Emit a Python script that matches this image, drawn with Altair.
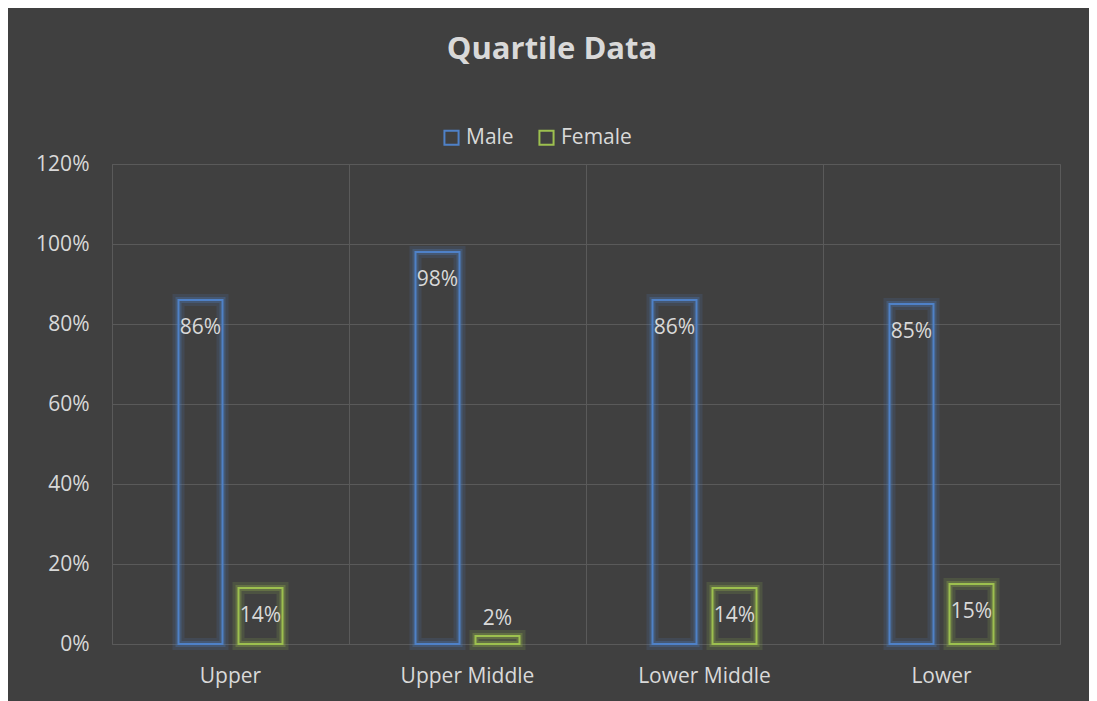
import altair as alt
import pandas as pd

categories = ["Upper", "Upper Middle", "Lower Middle", "Lower"]
male = [0.86, 0.98, 0.86, 0.85]
female = [0.14, 0.02, 0.14, 0.15]
series = ["Male", "Female"]
y_ticks = [0, 0.2, 0.4, 0.6, 0.8, 1.0, 1.2]

rows = []
for i, c in enumerate(categories):
    rows.append({"quartile": c, "gender": "Male", "value": male[i]})
    rows.append({"quartile": c, "gender": "Female", "value": female[i]})
df = pd.DataFrame(rows)

BG = "#404040"
TXT = "#d9d9d9"
GRID = "#5a5a5a"
FONT = "Open Sans"
FS = 21
colors = ["#4f81c7", "#9dc04f"]

x = alt.X("quartile:N", sort=categories, title=None,
          scale=alt.Scale(paddingInner=0, paddingOuter=0),
          axis=alt.Axis(grid=True, bandPosition=0, gridColor=GRID, gridWidth=1,
                        ticks=False, domain=False, labelAngle=0,
                        labelFontSize=FS, labelColor=TXT, labelFont=FONT,
                        labelPadding=21))
xo = alt.XOffset("gender:N", sort=series,
                 scale=alt.Scale(paddingInner=0, paddingOuter=0.975))
y = alt.Y("value:Q", title=None,
          scale=alt.Scale(domain=[0, 1.2]),
          axis=alt.Axis(values=y_ticks, format=".0%", grid=True, gridColor=GRID,
                        gridWidth=1, ticks=False, domain=False,
                        labelFontSize=FS, labelColor=TXT, labelFont=FONT,
                        labelPadding=23))

color_main = alt.Color("gender:N", sort=series,
                       scale=alt.Scale(domain=series, range=colors),
                       legend=alt.Legend(title=None, orient="none",
                                         direction="horizontal",
                                         legendX=329, legendY=-37,
                                         symbolType="square", symbolSize=200,
                                         symbolStrokeWidth=2,
                                         symbolFillColor="transparent",
                                         labelFontSize=FS, labelColor=TXT,
                                         labelFont=FONT, labelOffset=4,
                                         columnPadding=21))
glow_stroke = alt.condition(f"datum.gender == '{series[0]}'",
                            alt.value(colors[0]), alt.value(colors[1]))

base = alt.Chart(df)

glow1 = base.mark_bar(filled=False, fill="transparent", strokeWidth=12,
                      strokeOpacity=0.15, width=44).encode(
    x=x, xOffset=xo, y=y, stroke=glow_stroke)
glow2 = base.mark_bar(filled=False, fill="transparent", strokeWidth=6,
                      strokeOpacity=0.28, width=44).encode(
    x=x, xOffset=xo, y=y, stroke=glow_stroke)
bars = base.mark_bar(filled=False, strokeWidth=2, width=44).encode(
    x=x, xOffset=xo, y=y, color=color_main)

lab_in = base.transform_filter("datum.value > 0.05").mark_text(
    baseline="middle", dy=28, fontSize=FS, font=FONT, color=TXT).encode(
    x=x, xOffset=xo, y=y, text=alt.Text("value:Q", format=".0%"))
lab_out = base.transform_filter("datum.value <= 0.05").mark_text(
    baseline="middle", dy=-17, fontSize=FS, font=FONT, color=TXT).encode(
    x=x, xOffset=xo, y=y, text=alt.Text("value:Q", format=".0%"))

chart = alt.layer(glow1, glow2, bars, lab_in, lab_out).properties(
    width=948, height=480,
    autosize="none",
    padding={"left": 104, "top": 156, "right": 29, "bottom": 60},
    background=BG,
    title=alt.TitleParams("Quartile Data", fontSize=31, fontWeight="bold",
                          color=TXT, font=FONT, offset=61, dx=-34,
                          anchor="middle"),
).configure_view(stroke=GRID, strokeWidth=1)

chart.save("out.html", embed_options={"renderer": "svg", "actions": False})
